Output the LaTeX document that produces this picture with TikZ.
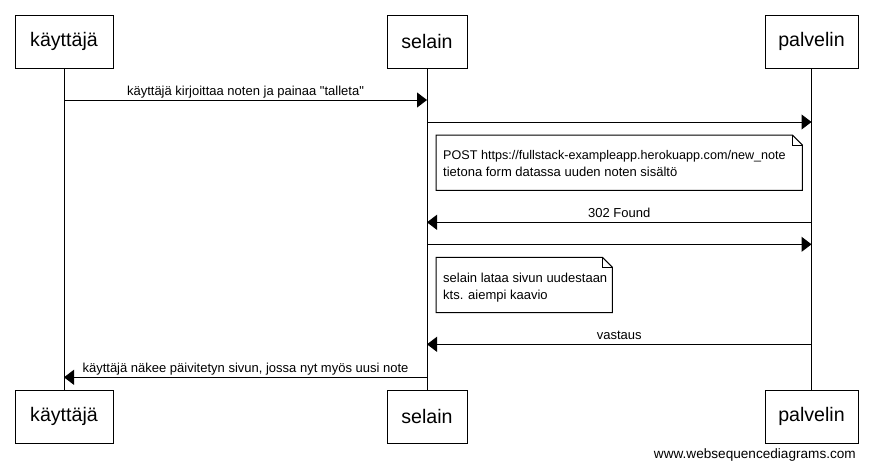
\documentclass[tikz,border=0pt]{standalone}
\usepackage{fontspec}
\setmainfont{Liberation Sans}
\usetikzlibrary{arrows.meta}
\begin{document}
\begin{tikzpicture}[x=1pt,y=-1pt,
  actor/.style={draw, line width=1pt, minimum height=53pt, inner sep=0pt, font=\fontsize{19.6}{22}\selectfont},
  life/.style={line width=1pt},
  msg/.style={line width=1pt, -{Triangle[length=10pt,width=15pt]}},
  lbl/.style={font=\fontsize{13}{15}\selectfont, anchor=base, yshift=4.5pt, inner sep=0pt},
  notebg/.style={draw=none, fill=white, inner sep=0pt, minimum height=55pt, anchor=north west},
  noteline/.style={line width=1pt},
  notetext/.style={font=\fontsize{13}{15}\selectfont, anchor=base west, inner sep=0pt},
  wmtext/.style={font=\fontsize{13.6}{16}\selectfont, anchor=base east, inner sep=0pt}
]
\fill[white] (0,0) rectangle (873,467);
\useasboundingbox (0,0) rectangle (873,467);

% actors
\node[actor, minimum width=98pt] (kt) at (64,41.5) {käyttäjä};
\node[actor, minimum width=80pt] (st) at (427,41.5) {selain};
\node[actor, minimum width=93pt] (pt) at (811.5,41.5) {palvelin};
\node[actor, minimum width=98pt] (kb) at (64,416.5) {käyttäjä};
\node[actor, minimum width=80pt] (sb) at (427,416.5) {selain};
\node[actor, minimum width=93pt] (pb) at (811.5,416.5) {palvelin};

% lifelines
\draw[life] (kt.south) -- (kb.north);
\draw[life] (st.south) -- (sb.north);
\draw[life] (pt.south) -- (pb.north);

% rows
\coordinate (r1) at (0,100);
\coordinate (r2) at (0,122);
\coordinate (r3) at (0,222.3);
\coordinate (r4) at (0,244.3);
\coordinate (r5) at (0,344.3);
\coordinate (r6) at (0,377.3);

% messages
\draw[msg] (kt |- r1) -- node[lbl] {käyttäjä kirjoittaa noten ja painaa \textquotedbl talleta\textquotedbl} (st |- r1);
\draw[msg] (st |- r2) -- (pt |- r2);
\draw[msg] (pt |- r3) -- node[lbl] {302 Found} (st |- r3);
\draw[msg] (st |- r4) -- (pt |- r4);
\draw[msg] (pt |- r5) -- node[lbl] {vastaus} (st |- r5);
\draw[msg] (st |- r6) -- node[lbl] {käyttäjä näkee päivitetyn sivun, jossa nyt myös uusi note} (kt |- r6);

% note 1
\node[notebg, minimum width=366pt] (n1) at (436,135) {};
\draw[noteline] (n1.south west) -- (n1.north west) -- ([xshift=-10pt]n1.north east)
  -- ([yshift=-10pt]n1.north east) -- (n1.south east) -- cycle;
\draw[noteline] ([xshift=-10pt]n1.north east) -- ([xshift=-10pt,yshift=-10pt]n1.north east) -- ([yshift=-10pt]n1.north east);
\node[notetext, font=\fontsize{12.6}{15}\selectfont] (n1a) at (443,159.3) {POST https://fullstack-exampleapp.herokuapp.com/new\_note};
\node[notetext] (n1b) at (443,176.8) {tietona form datassa uuden noten sisältö};

% note 2
\node[notebg, minimum width=176pt] (n2) at (436,257.3) {};
\draw[noteline] (n2.south west) -- (n2.north west) -- ([xshift=-10pt]n2.north east)
  -- ([yshift=-10pt]n2.north east) -- (n2.south east) -- cycle;
\draw[noteline] ([xshift=-10pt]n2.north east) -- ([xshift=-10pt,yshift=-10pt]n2.north east) -- ([yshift=-10pt]n2.north east);
\node[notetext] (n2a) at (443,282) {selain lataa sivun uudestaan};
\node[notetext] (n2b) at (443,299.5) {kts. aiempi kaavio};

% watermark
\node[wmtext] (wm) at (856,458) {www.websequencediagrams.com};
\end{tikzpicture}
\end{document}
